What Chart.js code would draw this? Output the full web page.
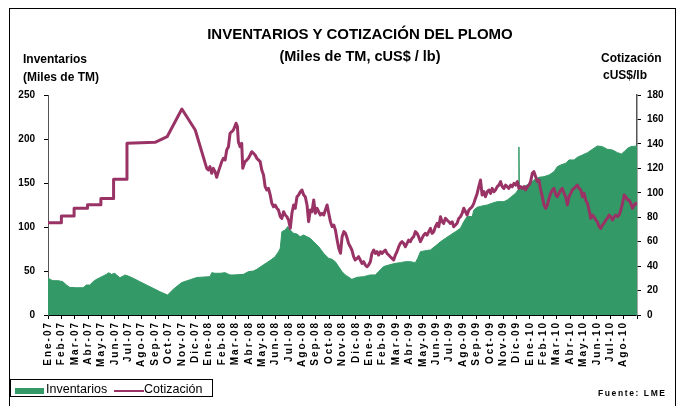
<!DOCTYPE html>
<html>
<head>
<meta charset="utf-8">
<script src="https://cdn.jsdelivr.net/npm/chart.js@4.4.1/dist/chart.umd.min.js"></script>
<style>
  body { margin: 0; background: #fff; overflow: hidden; }
  #wrap { position: relative; width: 681px; height: 406px; font-family: "Liberation Sans", Arial, sans-serif; color: #000; }
  #grafico { position: absolute; left: 0; top: 0; }
  .txt { position: absolute; white-space: nowrap; line-height: 1; }
  .b { font-weight: bold; }
  #marco { position: absolute; left: 9px; top: 8px; width: 667px; height: 420px; border: 1px solid #000; box-sizing: border-box; }
  #leyenda { position: absolute; left: 10px; top: 379px; width: 203px; height: 18px; border: 1px solid #000; box-sizing: border-box; background: #fff; }
</style>
</head>
<body>
<div id="wrap">
  <div id="marco"></div>
  <canvas id="grafico" width="681" height="406"></canvas>

  <div class="txt b" style="left:0;width:720px;text-align:center;top:26px;font-size:15px;">INVENTARIOS Y COTIZACIÓN DEL PLOMO</div>
  <div class="txt b" style="left:0;width:720px;text-align:center;top:49px;font-size:14.5px;">(Miles de TM, cUS$ / lb)</div>
  <div class="txt b" style="left:23px;top:53px;font-size:12px;">Inventarios</div>
  <div class="txt b" style="left:23px;top:71px;font-size:12px;">(Miles de TM)</div>
  <div class="txt b" style="left:601px;top:52px;font-size:12px;">Cotización</div>
  <div class="txt b" style="left:603px;top:69px;font-size:12px;">cUS$/lb</div>

  <div id="leyenda">
    <div style="position:absolute;left:4px;top:8px;width:29px;height:6px;background:#339966;"></div>
    <div class="txt" style="left:35px;top:3px;font-size:12.5px;">Inventarios</div>
    <div style="position:absolute;left:103px;top:10px;width:30px;height:2px;background:#993366;"></div>
    <div class="txt" style="left:133px;top:3px;font-size:12.5px;">Cotización</div>
  </div>
  <div class="txt b" style="left:598px;top:389px;font-size:8.5px;letter-spacing:1.6px;">Fuente: LME</div>
</div>

<script>
// ================= DATA =================
const meses = [
  "Ene-07","Feb-07","Mar-07","Abr-07","May-07","Jun-07","Jul-07","Ago-07","Sep-07","Oct-07","Nov-07","Dic-07",
  "Ene-08","Feb-08","Mar-08","Abr-08","May-08","Jun-08","Jul-08","Ago-08","Sep-08","Oct-08","Nov-08","Dic-08",
  "Ene-09","Feb-09","Mar-09","Abr-09","May-09","Jun-09","Jul-09","Ago-09","Sep-09","Oct-09","Nov-09","Dic-09",
  "Ene-10","Feb-10","Mar-10","Abr-10","May-10","Jun-10","Jul-10","Ago-10"
];

// [mes (0 = inicio Ene-07), miles de TM]
const inventarios = [
  [0,42.8],[0.13,40.5],[0.38,39],[0.75,39],[1.12,37.9],[1.37,34.1],[1.62,31.4],[2.12,31],[2.62,31],[2.87,34.1],
  [3.12,34.1],[3.37,37.9],[3.62,40.5],[3.87,42.4],[4.12,44.3],[4.37,46.2],[4.54,48.1],[4.74,46.2],[4.99,47.4],
  [5.12,45.5],[5.37,42.4],[5.62,44.3],[5.74,45.5],[5.99,44.3],[6.37,41.7],[6.86,37.9],[7.36,34.1],[7.86,30.3],
  [8.36,26.5],[8.93,22.7],[9.36,29.2],[9.98,36.8],[10.61,40],[11.11,42.6],[12.11,43.6],[12.23,48.1],[12.48,47.4],
  [12.86,47.4],[13.23,48.1],[13.6,45.5],[13.85,45.5],[14.6,46.2],[14.98,49.3],[15.35,50],[15.6,51.9],[15.97,55.7],
  [16.35,59.5],[16.72,63.3],[16.97,66.3],[17.22,72],[17.35,75.8],[17.47,94.7],[17.72,96.6],[17.9,100.4],[18.1,96.6],
  [18.34,92.8],[18.59,92.1],[18.84,89],[19.09,90.9],[19.34,89],[19.59,87.1],[19.84,83.3],[20.22,77.7],[20.59,70.1],
  [20.96,64.4],[21.21,63.3],[21.46,60.6],[21.71,55],[21.96,49.3],[22.21,45.5],[22.33,44.3],[22.59,41.7],[22.7,40.5],
  [23.08,42.8],[23.58,43.6],[24.08,45.5],[24.45,45.5],[24.7,49.3],[25.07,55],[25.45,56.8],[25.95,58.7],[26.32,59.5],
  [26.7,60.6],[27.07,60.6],[27.44,59.5],[27.62,64.4],[27.82,72],[28.19,73.1],[28.57,73.9],[28.94,78.4],[29.32,83.3],
  [29.69,87.1],[30.06,90.9],[30.44,94.7],[30.81,98.5],[31.06,106.1],[31.31,111.8],[31.69,111.8],[31.81,119.3],
  [32.06,122.4],[32.43,123.9],[32.81,125],[33.31,127.7],[33.56,128.8],[34.06,128.8],[34.31,130.7],[34.56,133.7],
  [34.93,138.3],[35.11,142.1],[35.15,142.2],[35.18,191],[35.21,142.6],[35.31,142.8],[35.56,145.9],[35.93,148.9],
  [36.3,153.4],[36.68,156.5],[37.05,157.2],[37.43,159.1],[37.8,162.9],[38.05,168.6],[38.3,170.5],[38.67,172.4],
  [38.92,176.2],[39.3,176.2],[39.55,179.2],[39.92,181.8],[40.3,184.5],[40.67,188.3],[41.04,192.1],[41.42,191.3],
  [41.79,188.3],[42.17,187.5],[42.54,184.5],[42.84,183],[43.04,185.6],[43.29,189.4],[43.54,191.3],[44,192.1]
];

// [mes, cUS$/lb]
const cotizacion = [
  [0,75.5],[1,75.5],[1,81],[1.95,81],[1.95,87.3],[2.95,87.3],[2.95,90.3],[3.95,90.3],[3.95,95.4],[4.9,95.4],
  [4.9,111],[5.9,111],[5.9,140.5],[8,141.3],[8.9,145.9],[10,168.5],[11,151.4],
  [11.86,120],[11.98,118.7],[12.1,121.4],[12.23,115.9],[12.35,120],[12.48,117.3],[12.6,112.7],[12.73,117.3],
  [12.98,125.5],[13.1,128.2],[13.23,126.8],[13.35,135],[13.48,137.7],[13.6,148.7],[13.73,150],[13.85,151.4],
  [14.05,156.9],[14.15,154.1],[14.22,141.8],[14.35,137.7],[14.47,140.5],[14.55,120],[14.72,125.5],[14.85,126.8],
  [14.97,128.2],[15.1,130.9],[15.22,133.6],[15.35,132.3],[15.47,130.9],[15.6,128.2],[15.85,125.5],[15.97,118.7],
  [16.1,114.6],[16.22,105],[16.35,102.3],[16.47,103.7],[16.6,98.2],[16.72,91.4],[16.85,88.6],[16.97,90],
  [17.1,87.3],[17.22,85.9],[17.35,80.4],[17.47,79.1],[17.6,84.5],[17.72,81.8],[17.85,80.4],[17.97,77.7],
  [18.1,70.9],[18.22,83.2],[18.35,90],[18.47,87.3],[18.6,96.8],[18.72,98.2],[18.85,100.9],[18.97,102.3],
  [19.1,98.2],[19.22,96.8],[19.35,90],[19.47,76.4],[19.6,85.9],[19.72,84.5],[19.85,94.1],[19.97,83.2],
  [20.1,87.3],[20.22,84.5],[20.35,81.8],[20.47,83.2],[20.6,81.8],[20.72,85.9],[20.85,90],[20.97,83.2],
  [21.1,76.4],[21.22,72.3],[21.35,73.6],[21.47,69.6],[21.6,61.4],[21.72,54.6],[21.85,50.5],[21.97,64.1],
  [22.1,68.2],[22.22,66.8],[22.35,62.7],[22.45,58.6],[22.58,55.9],[22.7,53.2],[22.83,47.7],[22.95,45],
  [23.08,46.3],[23.2,47.7],[23.33,45],[23.45,42.2],[23.58,43.6],[23.7,40.9],[23.83,39.5],[23.95,40.9],
  [24.08,43.6],[24.2,50.4],[24.33,53.2],[24.45,50.4],[24.57,51.8],[24.7,49.1],[24.82,51.8],[24.95,50.4],
  [25.07,51.8],[25.2,53.2],[25.32,50.4],[25.45,49.1],[25.57,47.7],[25.7,46.3],[25.82,45],[25.95,49.1],
  [26.07,51.8],[26.2,55.9],[26.32,58.6],[26.45,60],[26.57,58.6],[26.7,55.9],[26.82,58.6],[26.94,61.3],
  [27.07,60],[27.19,62.7],[27.32,64.1],[27.44,68.2],[27.57,66.8],[27.69,64.1],[27.82,60],[27.94,62.7],
  [28.07,65.4],[28.19,66.8],[28.32,65.4],[28.44,68.2],[28.57,70.9],[28.69,66.8],[28.82,68.2],[28.94,72.2],
  [29.07,75],[29.19,72.2],[29.32,80.4],[29.44,76.3],[29.56,75],[29.69,79.1],[29.81,77.7],[29.94,76.3],
  [30.06,75],[30.19,76.3],[30.31,72.2],[30.44,73.6],[30.56,75],[30.69,79.1],[30.81,80.4],[30.94,83.2],
  [31.06,87.3],[31.19,84.5],[31.31,81.8],[31.44,85.9],[31.56,87.3],[31.69,88.6],[31.81,91.3],[31.93,95.4],
  [32.06,99.5],[32.18,105],[32.31,110.4],[32.43,98.2],[32.56,100.9],[32.68,96.8],[32.81,100.9],[32.93,102.3],
  [33.06,99.5],[33.18,103.6],[33.31,100.9],[33.43,102.3],[33.56,105],[33.68,106.3],[33.81,109.1],[33.93,105],
  [34.06,103.6],[34.18,106.3],[34.31,105],[34.43,103.6],[34.56,106.3],[34.68,105],[34.81,107.7],[34.93,106.3],
  [35.06,109.1],[35.18,103.6],[35.31,105],[35.43,103.6],[35.56,105],[35.68,102.3],[35.8,105],[35.93,106.3],
  [36.05,109.1],[36.18,115.9],[36.3,117.3],[36.43,113.2],[36.55,109.1],[36.68,110.4],[36.8,102.3],[36.93,96.8],
  [37.05,90],[37.18,87.3],[37.3,90],[37.43,95.4],[37.55,99.5],[37.68,102.3],[37.8,103.6],[37.93,98.2],
  [38.05,96.8],[38.17,99.5],[38.3,102.3],[38.42,103.6],[38.55,99.5],[38.67,96.8],[38.8,90],[38.92,96.8],
  [39.05,99.5],[39.17,102.3],[39.3,103.6],[39.42,105],[39.55,106.3],[39.67,103.6],[39.8,102.3],[39.92,96.8],
  [40.05,99.5],[40.17,94.1],[40.3,91.3],[40.42,85.9],[40.55,79.1],[40.67,81.8],[40.79,80.4],[40.92,77.7],
  [41.04,76.3],[41.17,72.2],[41.29,70.9],[41.42,73.6],[41.54,75],[41.67,77.7],[41.79,79.1],[41.92,81.8],
  [42.04,80.4],[42.17,77.7],[42.29,80.4],[42.42,81.8],[42.54,80.4],[42.67,81.8],[42.79,85.9],[42.92,91.3],
  [43.04,98.2],[43.16,96.8],[43.29,94.1],[43.41,94.1],[43.54,91.3],[43.66,87.3],[43.79,90],[43.91,91.3],[44,90]
];

const ejeInv = { min: 0, max: 250, paso: 50 };
const ejeCot = { min: 0, max: 180, paso: 20 };

// ================= COLORS / FONTS =================
const VERDE = "#339966";
const GRANATE = "#993366";
const FUENTE = "'Liberation Sans', Arial, sans-serif";

const toXY = arr => arr.map(p => ({ x: p[0], y: p[1] }));

// letter spacing for the month labels (their layer is drawn after the datasets)
const espaciado = {
  id: "espaciado",
  afterDatasetsDraw(chart) { chart.ctx.letterSpacing = "2px"; },
  afterDraw(chart) { chart.ctx.letterSpacing = "0px"; }
};

// ================= CHART =================
new Chart(document.getElementById("grafico"), {
  type: "line",
  data: {
    datasets: [
      {
        label: "Inventarios",
        data: toXY(inventarios),
        yAxisID: "y",
        borderWidth: 1,
        borderColor: VERDE,
        backgroundColor: VERDE,
        fill: "origin",
        pointRadius: 0,
        order: 2
      },
      {
        label: "Cotización",
        data: toXY(cotizacion),
        yAxisID: "y1",
        borderColor: GRANATE,
        borderWidth: 3,
        borderJoinStyle: "round",
        fill: false,
        pointRadius: 0,
        order: 1
      }
    ]
  },
  options: {
    responsive: false,
    animation: false,
    devicePixelRatio: 1,
    layout: { padding: { top: 95, left: 0, right: 0, bottom: 0 } },
    plugins: { legend: { display: false }, title: { display: false }, tooltip: { enabled: false } },
    scales: {
      x: {
        type: "linear",
        position: "bottom",
        min: 0,
        max: meses.length,
        afterFit: s => { s.height = 91; },
        ticks: {
          z: 1,
          stepSize: 1,
          autoSkip: false,
          minRotation: 90,
          maxRotation: 90,
          padding: 2,
          color: "#000",
          font: { family: FUENTE, size: 10, weight: "bold" },
          callback: v => meses[v] || ""
        },
        grid: { drawOnChartArea: false, tickLength: 4, color: "#000" },
        border: { color: "#000" }
      },
      y: {
        position: "left",
        min: ejeInv.min,
        max: ejeInv.max,
        afterFit: s => { s.width = 48; },
        ticks: {
          stepSize: ejeInv.paso,
          padding: 9,
          color: "#000",
          font: { family: FUENTE, size: 10, weight: "bold" }
        },
        grid: { drawOnChartArea: false, tickLength: 4, color: "#000" },
        border: { color: "#555" }
      },
      y1: {
        position: "right",
        min: ejeCot.min,
        max: ejeCot.max,
        afterFit: s => { s.width = 44; },
        ticks: {
          stepSize: ejeCot.paso,
          padding: 6,
          color: "#000",
          font: { family: FUENTE, size: 10, weight: "bold" }
        },
        grid: { drawOnChartArea: false, tickLength: 4, color: "#000" },
        border: { color: "#555", width: 1.5 }
      }
    }
  },
  plugins: [espaciado]
});
</script>
</body>
</html>
